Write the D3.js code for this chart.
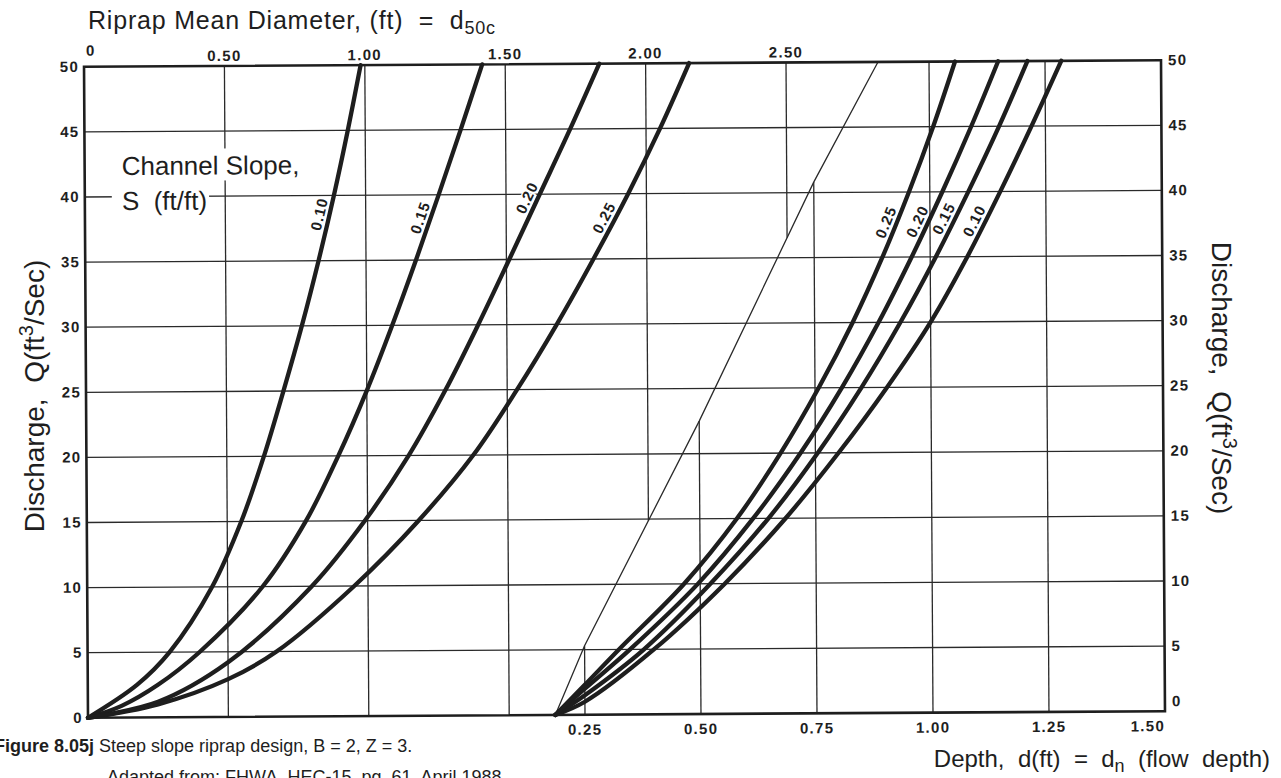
<!DOCTYPE html>
<html>
<head>
<meta charset="utf-8">
<script src="https://cdn.jsdelivr.net/npm/d3@7"></script>
<style>
body { margin: 0; background: #fff; }
svg text { font-family: "Liberation Sans", Arial, Helvetica, sans-serif; fill: #1e1e1e; white-space: pre; }
.tickLabel { font-weight: bold; font-size: 15px; letter-spacing: 1.3px; }
.curveLabel { font-weight: bold; font-size: 15px; letter-spacing: 1px; }
</style>
</head>
<body>
<svg id="chart"></svg>
<script>
// slope values of the curves, same order as the arrays below
var slopes = ['0.10', '0.15', '0.20', '0.25'];

// left family: riprap d50 (ft) against discharge Q (cfs)
var d50Slope010 = [[0,0],[0.175,2.5],[0.292,5],[0.445,10],[0.55,15],[0.632,20],[0.703,25],[0.77,30],[0.831,35],[0.887,40],[0.938,45],[0.985,50]];
var d50Slope015 = [[0,0],[0.12,0.9],[0.25,2.5],[0.399,5],[0.625,10],[0.78,15],[0.897,20],[1.0,25],[1.092,30],[1.178,35],[1.26,40],[1.34,45],[1.418,50]];
var d50Slope020 = [[0,0],[0.25,1.2],[0.5,4.2],[0.8,10],[0.99,15],[1.148,20],[1.28,25],[1.398,30],[1.51,35],[1.62,40],[1.73,45],[1.835,50]];
var d50Slope025 = [[0,0],[0.25,1.0],[0.5,2.9],[0.673,5],[0.951,10],[1.182,15],[1.378,20],[1.535,25],[1.678,30],[1.81,35],[1.935,40],[2.05,45],[2.155,50]];

// right family: flow depth dn (ft) against discharge Q (cfs)
var depthSlope010 = [[0.186,0],[0.25,1.0],[0.40,5],[0.553,10],[0.685,15],[0.80,20],[0.905,25],[1.0,30],[1.08,35],[1.152,40],[1.22,45],[1.285,50]];
var depthSlope015 = [[0.186,0],[0.25,1.5],[0.378,5],[0.522,10],[0.648,15],[0.755,20],[0.85,25],[0.935,30],[1.012,35],[1.083,40],[1.15,45],[1.212,50]];
var depthSlope020 = [[0.186,0],[0.25,2.0],[0.348,5],[0.495,10],[0.615,15],[0.718,20],[0.808,25],[0.888,30],[0.96,35],[1.027,40],[1.09,45],[1.149,50]];
var depthSlope025 = [[0.186,0],[0.25,2.3],[0.324,5],[0.465,10],[0.58,15],[0.675,20],[0.758,25],[0.832,30],[0.897,35],[0.955,40],[1.008,45],[1.056,50]];

// thin turning line (depth, Q)
var turningLine = [[0.186,0],[0.25,5.3],[0.5,22.5],[0.75,40.8],[0.89,50]];

var qTicks = [0, 5, 10, 15, 20, 25, 30, 35, 40, 45, 50];
var d50Ticks = [0, 0.5, 1.0, 1.5, 2.0, 2.5];
var d50TickLabels = ['0', '0.50', '1.00', '1.50', '2.00', '2.50'];
var depthTicks = [0.25, 0.5, 0.75, 1.0, 1.25, 1.5];
var depthTickLabels = ['0.25', '0.50', '0.75', '1.00', '1.25', '1.50'];

// which grid lines run the full height and which stop at the turning line
var d50FullLines = [0.5, 1.0, 1.5];
var d50PartLines = [2.0, 2.5];
var depthFullLines = [1.0, 1.25];
var depthPartLines = [0.25, 0.5, 0.75];

// discharge at which each curve label sits
var d50LabelQ = [38.4, 38.0, 39.4, 37.8];
var depthLabelQ = [37.4, 37.6, 37.4, 37.4];

var d50Curves = [d50Slope010, d50Slope015, d50Slope020, d50Slope025];
var depthCurves = [depthSlope010, depthSlope015, depthSlope020, depthSlope025];

var W = 1281, H = 778;
var plot = {left: 86, right: 1163, top: 63.5, bottom: 714.5};

var svg = d3.select('#chart')
    .attr('width', W)
    .attr('height', H);

svg.append('rect')
    .attr('width', W)
    .attr('height', H)
    .attr('fill', '#fff');

var xD50 = d3.scaleLinear().domain([0, 2.5]).range([plot.left, 788]);
var xDepth = d3.scaleLinear().domain([0.25, 1.5]).range([583, plot.right]);
var y = d3.scaleLinear().domain([0, 50]).range([plot.bottom, plot.top]);

// the scan is a touch rotated
var g = svg.append('g')
    .attr('transform', 'rotate(-0.35,625,389)');

var ink = '#1e1e1e';

// turning line in pixels, and a lookup from x to its y
var turnPx = turningLine.map(function(d) { return [xDepth(d[0]), y(d[1])]; });
var turnY = d3.scaleLinear()
    .domain(turnPx.map(function(d) { return d[0]; }))
    .range(turnPx.map(function(d) { return d[1]; }));

var grid = g.append('g').attr('class', 'grid')
    .attr('stroke', '#2a2a2a')
    .attr('stroke-width', 1.3);

grid.selectAll('.hline')
    .data(qTicks.filter(function(q) { return q > 0 && q < 50; }))
    .enter().append('line')
    .attr('x1', plot.left)
    .attr('x2', plot.right)
    .attr('y1', function(d) { return y(d); })
    .attr('y2', function(d) { return y(d); });

grid.selectAll('.d50full')
    .data(d50FullLines)
    .enter().append('line')
    .attr('x1', function(d) { return xD50(d); })
    .attr('x2', function(d) { return xD50(d); })
    .attr('y1', plot.top)
    .attr('y2', plot.bottom);

grid.selectAll('.d50part')
    .data(d50PartLines)
    .enter().append('line')
    .attr('x1', function(d) { return xD50(d); })
    .attr('x2', function(d) { return xD50(d); })
    .attr('y1', plot.top)
    .attr('y2', function(d) { return turnY(xD50(d)); });

grid.selectAll('.depthfull')
    .data(depthFullLines)
    .enter().append('line')
    .attr('x1', function(d) { return xDepth(d); })
    .attr('x2', function(d) { return xDepth(d); })
    .attr('y1', plot.top)
    .attr('y2', plot.bottom);

grid.selectAll('.depthpart')
    .data(depthPartLines)
    .enter().append('line')
    .attr('x1', function(d) { return xDepth(d); })
    .attr('x2', function(d) { return xDepth(d); })
    .attr('y1', function(d) { return turnY(xDepth(d)); })
    .attr('y2', plot.bottom);

grid.append('path')
    .attr('d', d3.line()(turnPx))
    .attr('fill', 'none');

// legend note, with white boxes knocking out the grid behind it
var note = g.append('g').attr('class', 'note');
var noteLines = ['Channel Slope,', 'S  (ft/ft)'];
var noteY = [172, 207];
noteLines.forEach(function(t, i) {
    var txt = note.append('text')
        .attr('x', 123)
        .attr('y', noteY[i])
        .attr('font-size', '26px')
        .text(t);
    var bb = txt.node().getBBox();
    note.insert('rect', 'text')
        .attr('x', bb.x - 10)
        .attr('y', bb.y - 2)
        .attr('width', bb.width + 12)
        .attr('height', bb.height + 2)
        .attr('fill', '#fff');
});

var lineD50 = d3.line()
    .x(function(d) { return xD50(d[0]); })
    .y(function(d) { return y(d[1]); })
    .curve(d3.curveCatmullRom.alpha(0.5));

var lineDepth = d3.line()
    .x(function(d) { return xDepth(d[0]); })
    .y(function(d) { return y(d[1]); })
    .curve(d3.curveCatmullRom.alpha(0.5));

g.append('g').attr('class', 'curves')
    .selectAll('path')
    .data(d50Curves)
    .enter().append('path')
    .attr('d', lineD50)
    .attr('fill', 'none')
    .attr('stroke', ink)
    .attr('stroke-width', 4.3)
    .attr('stroke-linecap', 'round');

g.append('g').attr('class', 'curves')
    .selectAll('path')
    .data(depthCurves)
    .enter().append('path')
    .attr('d', lineDepth)
    .attr('fill', 'none')
    .attr('stroke', ink)
    .attr('stroke-width', 4.3)
    .attr('stroke-linecap', 'round');

// frame
g.append('rect')
    .attr('x', plot.left)
    .attr('y', plot.top)
    .attr('width', plot.right - plot.left)
    .attr('height', plot.bottom - plot.top)
    .attr('fill', 'none')
    .attr('stroke', ink)
    .attr('stroke-width', 2.6);

// curve labels sit just left of the curve, turned along it
function labelCurve(pts, q, xs, text) {
    var dAt = d3.scaleLinear()
        .domain(pts.map(function(d) { return d[1]; }))
        .range(pts.map(function(d) { return d[0]; }));
    var x0 = xs(dAt(q - 1.5)), y0 = y(q - 1.5);
    var x1 = xs(dAt(q + 1.5)), y1 = y(q + 1.5);
    var tx = x1 - x0, ty = y1 - y0;
    var len = Math.sqrt(tx * tx + ty * ty);
    tx /= len; ty /= len;
    var px = xs(dAt(q)) + ty * 10;
    var py = y(q) - tx * 10;
    var ang = Math.atan2(ty, tx) * 180 / Math.PI;
    g.append('text')
        .attr('class', 'curveLabel')
        .attr('transform', 'translate(' + px + ',' + py + ') rotate(' + ang + ')')
        .attr('text-anchor', 'middle')
        .attr('dy', '0.35em')
        .attr('stroke', '#fff')
        .attr('stroke-width', 3)
        .attr('paint-order', 'stroke')
        .text(text);
}

d50Curves.forEach(function(c, i) { labelCurve(c, d50LabelQ[i], xD50, slopes[i]); });
depthCurves.forEach(function(c, i) { labelCurve(c, depthLabelQ[i], xDepth, slopes[i]); });

// tick labels
var ticks = g.append('g').attr('class', 'tickLabel');

ticks.selectAll('.lt')
    .data(qTicks)
    .enter().append('text')
    .attr('x', plot.left - 5)
    .attr('y', function(d) { return y(d) + 5; })
    .attr('text-anchor', 'end')
    .text(function(d) { return d; });

ticks.selectAll('.rt')
    .data(qTicks)
    .enter().append('text')
    .attr('x', plot.right + 7)
    .attr('y', function(d) { return d === 0 ? y(d) - 5 : y(d) + 5; })
    .text(function(d) { return d; });

ticks.selectAll('.tt')
    .data(d50Ticks)
    .enter().append('text')
    .attr('x', function(d) { return d === 0 ? xD50(d) + 2 : xD50(d); })
    .attr('y', function(d) { return d === 0 ? plot.top - 11 : plot.top - 5; })
    .attr('text-anchor', function(d) { return d === 0 ? 'start' : 'middle'; })
    .text(function(d, i) { return d50TickLabels[i]; });

ticks.selectAll('.bt')
    .data(depthTicks)
    .enter().append('text')
    .attr('x', function(d) { return xDepth(d); })
    .attr('y', plot.bottom + 20)
    .attr('text-anchor', function(d) { return d === 1.5 ? 'end' : 'middle'; })
    .text(function(d, i) { return depthTickLabels[i]; });

// titles
var topTitle = svg.append('text')
    .attr('x', 88)
    .attr('y', 29)
    .attr('font-size', '25px')
    .attr('letter-spacing', '0.8px');
topTitle.append('tspan').text('Riprap Mean Diameter, (ft)  =  d');
topTitle.append('tspan')
    .attr('font-size', '18px')
    .attr('dy', 5)
    .text('50c');

function dischargeTitle(tr) {
    var t = svg.append('text')
        .attr('transform', tr)
        .attr('text-anchor', 'middle')
        .attr('font-size', '28px');
    t.append('tspan').text('Discharge,  Q(ft');
    t.append('tspan').attr('font-size', '20px').attr('dy', -11).text('3');
    t.append('tspan').attr('dy', 11).text('/Sec)');
}
dischargeTitle('translate(44,396) rotate(-90)');
dischargeTitle('translate(1212,378) rotate(90)');

var depthTitle = svg.append('text')
    .attr('x', 1270)
    .attr('y', 767)
    .attr('text-anchor', 'end')
    .attr('font-size', '24px');
depthTitle.append('tspan').text('Depth,  d(ft)  =  d');
depthTitle.append('tspan').attr('font-size', '18px').attr('dy', 5).text('n');
depthTitle.append('tspan').attr('dy', -5).text('  (flow  depth)');

var caption = svg.append('text')
    .attr('x', -6)
    .attr('y', 752)
    .attr('font-size', '18px');
caption.append('tspan').attr('font-weight', 'bold').text('Figure 8.05j');
caption.append('tspan').text(' Steep slope riprap design, B = 2, Z = 3.');

svg.append('text')
    .attr('x', 107)
    .attr('y', 783)
    .attr('font-size', '18px')
    .text('Adapted from: FHWA, HEC-15, pg. 61, April 1988.');
</script>
</body>
</html>
